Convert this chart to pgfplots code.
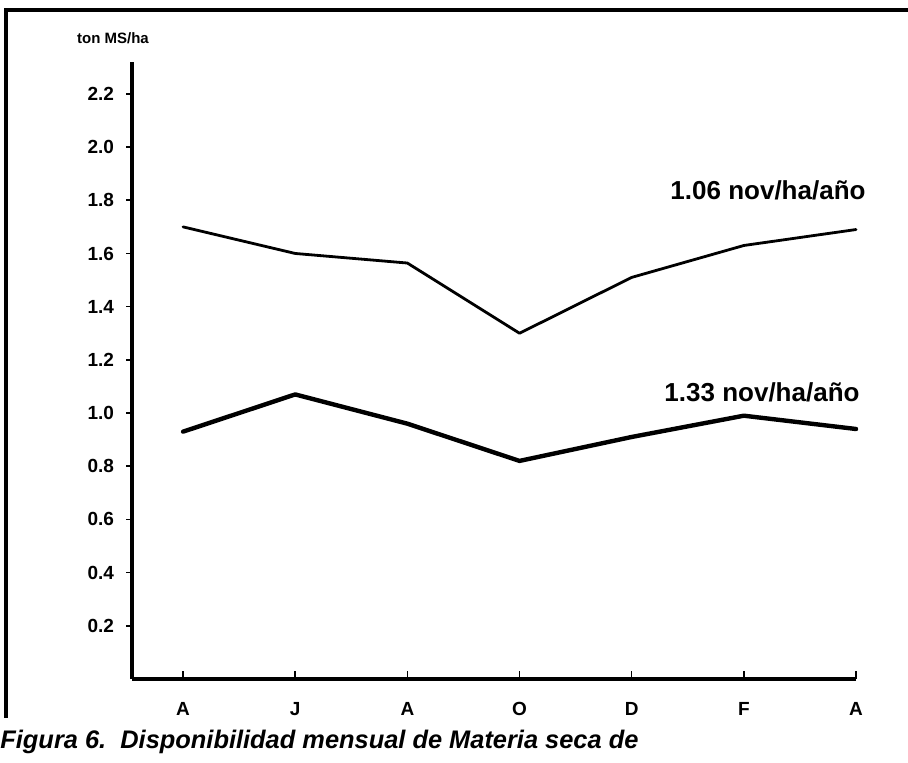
\documentclass[border=0pt]{standalone}
\usepackage{fontspec}
\setmainfont{Liberation Sans}
\usepackage{pgfplots}
\pgfplotsset{compat=1.18}
\begin{document}
\begin{tikzpicture}
\path[use as bounding box] (0,0) rectangle (454pt,381.5pt);
% frame
\draw[line width=1.8pt] (3pt,22.5pt) -- (3pt,376.5pt) -- (470pt,376.5pt);
\begin{axis}[
  at={(66pt,42pt)}, anchor=south west,
  scale only axis, width=362pt, height=308.5pt,
  xmin=-0.455, xmax=6, ymin=0, ymax=2.32,
  axis lines=left,
  axis line style={-, line width=1.8pt, black},
  tick align=inside,
  major tick length=4pt,
  tick style={line width=0.8pt, black},
  ytick style={xshift=-3pt},
  xtick={0,1,2,3,4,5,6},
  xticklabels={A,J,A,O,D,F,A},
  ytick={0.2,0.4,0.6,0.8,1.0,1.2,1.4,1.6,1.8,2.0,2.2},
  yticklabels={0.2,0.4,0.6,0.8,1.0,1.2,1.4,1.6,1.8,2.0,2.2},
  ticklabel style={font=\fontsize{9.5}{11}\selectfont\bfseries},
  yticklabel style={xshift=-5.5pt},
  xticklabel style={yshift=-8pt},
  clip=false,
]
\addplot[black, line width=1.4pt, line join=round, line cap=round] coordinates {
  (0,1.70) (1,1.60) (2,1.564) (3,1.30) (4,1.51) (5,1.63) (6,1.69)};
\addplot[black, line width=2.2pt, line join=round, line cap=round] coordinates {
  (0,0.93) (1,1.07) (2,0.96) (3,0.82) (4,0.91) (5,0.99) (6,0.94)};
\end{axis}
\node[font=\fontsize{7.5}{9}\selectfont\bfseries] at (56.5pt,362.5pt) {ton MS/ha};
\node[font=\fontsize{13}{15}\selectfont\bfseries] at (384pt,286.5pt) {1.06 nov/ha/año};
\node[font=\fontsize{13}{15}\selectfont\bfseries] at (381pt,185.5pt) {1.33 nov/ha/año};
\node[anchor=base west, inner sep=0pt, font=\fontsize{12.7}{14}\selectfont\bfseries\itshape] at (0pt,7pt) {Figura 6.\ \ Disponibilidad mensual de Materia seca de};
\end{tikzpicture}
\end{document}
